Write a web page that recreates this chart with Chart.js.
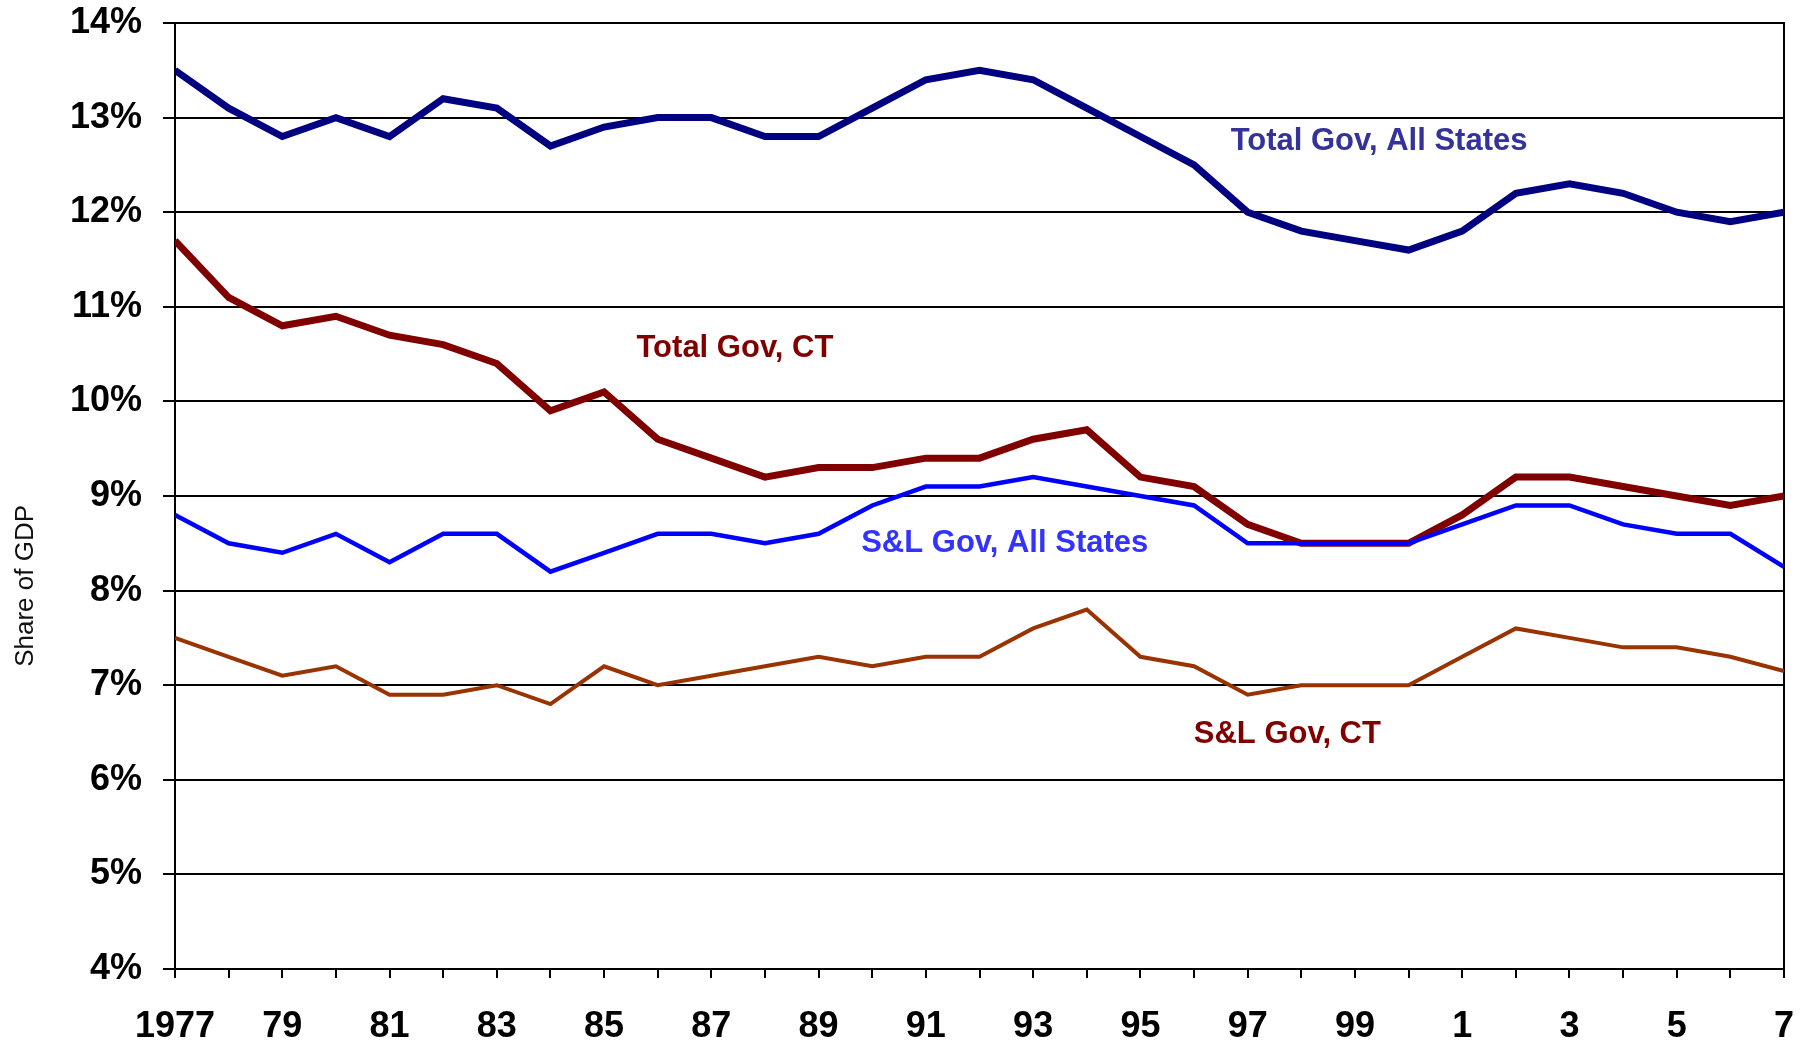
<!DOCTYPE html>
<html>
<head>
<meta charset="utf-8">
<script src="https://cdn.jsdelivr.net/npm/chart.js@4.4.1/dist/chart.umd.min.js"></script>
<style>
html,body{margin:0;padding:0;background:#fff;}
#wrap{width:1806px;height:1048px;position:relative;}
</style>
</head>
<body>
<div id="wrap"><canvas id="c" width="1806" height="1048"></canvas></div>
<script>
// ---- data ----
const years = [1977,1978,1979,1980,1981,1982,1983,1984,1985,1986,1987,1988,1989,1990,1991,1992,1993,1994,1995,1996,1997,1998,1999,2000,2001,2002,2003,2004,2005,2006,2007];
const xTickLabels = ['1977','','79','','81','','83','','85','','87','','89','','91','','93','','95','','97','','99','','1','','3','','5','','7'];
const yTickLabels = ['4%','5%','6%','7%','8%','9%','10%','11%','12%','13%','14%'];
const seriesNames = ['Total Gov, All States','Total Gov, CT','S&L Gov, All States','S&L Gov, CT'];
const totalGovAllStates = [13.5,13.1,12.8,13.0,12.8,13.2,13.1,12.7,12.9,13.0,13.0,12.8,12.8,13.1,13.4,13.5,13.4,13.1,12.8,12.5,12.0,11.8,11.7,11.6,11.8,12.2,12.3,12.2,12.0,11.9,12.0];
const totalGovCT        = [11.7,11.1,10.8,10.9,10.7,10.6,10.4,9.9,10.1,9.6,9.4,9.2,9.3,9.3,9.4,9.4,9.6,9.7,9.2,9.1,8.7,8.5,8.5,8.5,8.8,9.2,9.2,9.1,9.0,8.9,9.0];
const slGovAllStates    = [8.8,8.5,8.4,8.6,8.3,8.6,8.6,8.2,8.4,8.6,8.6,8.5,8.6,8.9,9.1,9.1,9.2,9.1,9.0,8.9,8.5,8.5,8.5,8.5,8.7,8.9,8.9,8.7,8.6,8.6,8.25];
const slGovCT           = [7.5,7.3,7.1,7.2,6.9,6.9,7.0,6.8,7.2,7.0,7.1,7.2,7.3,7.2,7.3,7.3,7.6,7.8,7.3,7.2,6.9,7.0,7.0,7.0,7.3,7.6,7.5,7.4,7.4,7.3,7.15];

const toPoints = (vals) => years.map((yr, i) => ({x: yr, y: vals[i]}));

const TICK_FONT = '"Liberation Sans", Arial, sans-serif';
const LABEL_FONT = '"Liberation Sans", Arial, sans-serif';

// in-chart series labels, anchored in data coordinates
const seriesLabels = [
  {text: seriesNames[0], x: 1999.45, y: 12.75, color: '#333399'},
  {text: seriesNames[1], x: 1987.44, y: 10.56, color: '#800000'},
  {text: seriesNames[2], x: 1992.47, y: 8.50,  color: '#3333FF'},
  {text: seriesNames[3], x: 1997.74, y: 6.48,  color: '#800000'}
];

const labelPlugin = {
  id: 'seriesLabels',
  afterDatasetsDraw(chart) {
    const {ctx, scales: {x, y}} = chart;
    ctx.save();
    ctx.font = 'bold 31px ' + LABEL_FONT;
    ctx.textAlign = 'center';
    ctx.textBaseline = 'middle';
    seriesLabels.forEach(l => {
      ctx.fillStyle = l.color;
      ctx.fillText(l.text, x.getPixelForValue(l.x), y.getPixelForValue(l.y));
    });
    ctx.restore();
  }
};

const yTitlePlugin = {
  id: 'yTitle',
  afterDraw(chart) {
    const {ctx, chartArea} = chart;
    ctx.save();
    ctx.font = '26px ' + LABEL_FONT;
    ctx.fillStyle = '#111';
    ctx.textAlign = 'center';
    ctx.textBaseline = 'middle';
    ctx.translate(26, chartArea.top + (chartArea.bottom - chartArea.top) * 0.595);
    ctx.rotate(-Math.PI / 2);
    ctx.fillText('Share of GDP', 0, 0);
    ctx.restore();
  }
};

new Chart(document.getElementById('c'), {
  type: 'line',
  data: {
    datasets: [
      {label: seriesNames[2], data: toPoints(slGovAllStates), borderColor: '#0000FF', borderWidth: 4.5, order: 0},
      {label: seriesNames[3], data: toPoints(slGovCT), borderColor: '#993300', borderWidth: 4, order: 1},
      {label: seriesNames[1], data: toPoints(totalGovCT), borderColor: '#800000', borderWidth: 7, order: 2},
      {label: seriesNames[0], data: toPoints(totalGovAllStates), borderColor: '#000080', borderWidth: 7, order: 3}
    ]
  },
  options: {
    responsive: false,
    animation: false,
    devicePixelRatio: 1,
    layout: {padding: {left: 0, right: 22, top: 23, bottom: 0}},
    elements: {
      point: {radius: 0, hoverRadius: 0},
      line: {tension: 0, fill: false, borderCapStyle: 'butt', borderJoinStyle: 'miter'}
    },
    plugins: {legend: {display: false}, tooltip: {enabled: false}},
    scales: {
      x: {
        type: 'linear', min: 1977, max: 2007,
        ticks: {
          stepSize: 1, autoSkip: false, maxRotation: 0, minRotation: 0,
          callback: (v) => xTickLabels[Math.round(v - 1977)],
          font: {family: TICK_FONT, size: 36, weight: 'bold'}, color: '#000', padding: 27
        },
        grid: {drawOnChartArea: false, drawTicks: true, tickLength: 9, color: '#000', lineWidth: 2},
        border: {display: true, color: '#000', width: 2},
        afterFit: (s) => { s.height = 79; s.paddingLeft = 0; s.paddingRight = 0; }
      },
      y: {
        type: 'linear', min: 4, max: 14,
        ticks: {
          stepSize: 1,
          callback: (v) => yTickLabels[Math.round(v - 4)],
          font: {family: TICK_FONT, size: 36, weight: 'bold'}, color: '#000', padding: 21
        },
        grid: {color: '#000', lineWidth: 2, tickLength: 12, drawTicks: true},
        border: {display: true, color: '#000', width: 2},
        afterFit: (s) => { s.width = 175; s.paddingTop = 0; s.paddingBottom = 0; }
      },
      y2: {
        type: 'linear', position: 'right', min: 4, max: 14,
        ticks: {display: false},
        grid: {display: false, drawTicks: false},
        border: {display: true, color: '#000', width: 2},
        afterFit: (s) => { s.width = 0; s.paddingTop = 0; s.paddingBottom = 0; }
      }
    }
  },
  plugins: [labelPlugin, yTitlePlugin]
});
</script>
</body>
</html>
